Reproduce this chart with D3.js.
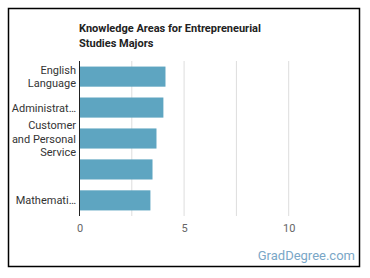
<!DOCTYPE html>
<html><head><meta charset="utf-8">
<script src="https://cdn.jsdelivr.net/npm/d3@7"></script>
<style>body{margin:0;background:#fff;font-family:Roboto,"Open Sans",sans-serif}</style>
</head><body>
<svg id="c" width="370" height="278"></svg>
<script>
const categories = [["English","Language"],["Administrat…"],["Customer","and Personal","Service"],[""],["Mathemati…"]];
const values = [4.11, 4.01, 3.68, 3.49, 3.39];
const tickValues = [0, 5, 10];
const gridValues = [0, 2.5, 5, 7.5, 10];
const titleLines = ["Knowledge Areas for Entrepreneurial", "Studies Majors"];

const svg = d3.select("#c");
svg.append("rect").attr("x",8.5).attr("y",8.5).attr("width",351).attr("height",258)
  .attr("fill","#fff").attr("stroke","#000").attr("stroke-width",1.5);

const x = d3.scaleLinear().domain([0, 12.5]).range([79.5, 341]);
const y = d3.scaleBand().domain(d3.range(categories.length)).range([61, 216]).paddingInner(0.35).paddingOuter(0.18);

svg.selectAll(".grid").data(gridValues).enter().append("line")
  .attr("x1",d=>x(d)).attr("x2",d=>x(d)).attr("y1",61).attr("y2",216)
  .attr("stroke","#ddd").attr("stroke-width",1);

svg.selectAll(".bar").data(values).enter().append("rect")
  .attr("x",x(0)).attr("y",(d,i)=>y(i)).attr("width",d=>x(d)-x(0)).attr("height",y.bandwidth())
  .attr("fill","#5ea5c1");

svg.append("line").attr("x1",x(0)).attr("x2",x(0)).attr("y1",61).attr("y2",216)
  .attr("stroke","#222").attr("stroke-width",1);

const xAxis = svg.append("g").attr("transform","translate(0,216)")
  .call(d3.axisBottom(x).tickValues(tickValues).tickSize(0).tickPadding(8).tickFormat(d3.format("d")));
xAxis.select(".domain").remove();
xAxis.selectAll("text").attr("fill","#666").style("font-size","11px").style("font-family","Roboto,sans-serif");

categories.forEach((lines,i)=>{
  const cy = y(i) + y.bandwidth()/2;
  const lh = 13.5;
  const t = svg.append("text").attr("text-anchor","end").attr("fill","#333")
    .style("font-size","11px").style("font-family","Roboto,sans-serif");
  lines.forEach((l,j)=>{
    t.append("tspan").attr("x",76).attr("y", cy + (j - (lines.length-1)/2)*lh + 4).text(l);
  });
});

const title = svg.append("text").attr("fill","#222").style("font-size","11px").style("font-weight","bold")
  .style("font-family","Roboto,sans-serif");
titleLines.forEach((l,j)=>title.append("tspan").attr("x",79).attr("y",32+j*14.5).text(l));

svg.append("text").attr("x",355).attr("y",260).attr("text-anchor","end").attr("fill","#7aa7c7")
  .style("font-size","13px").style("font-family","Roboto,sans-serif").text("GradDegree.com");
</script>
</body></html>
